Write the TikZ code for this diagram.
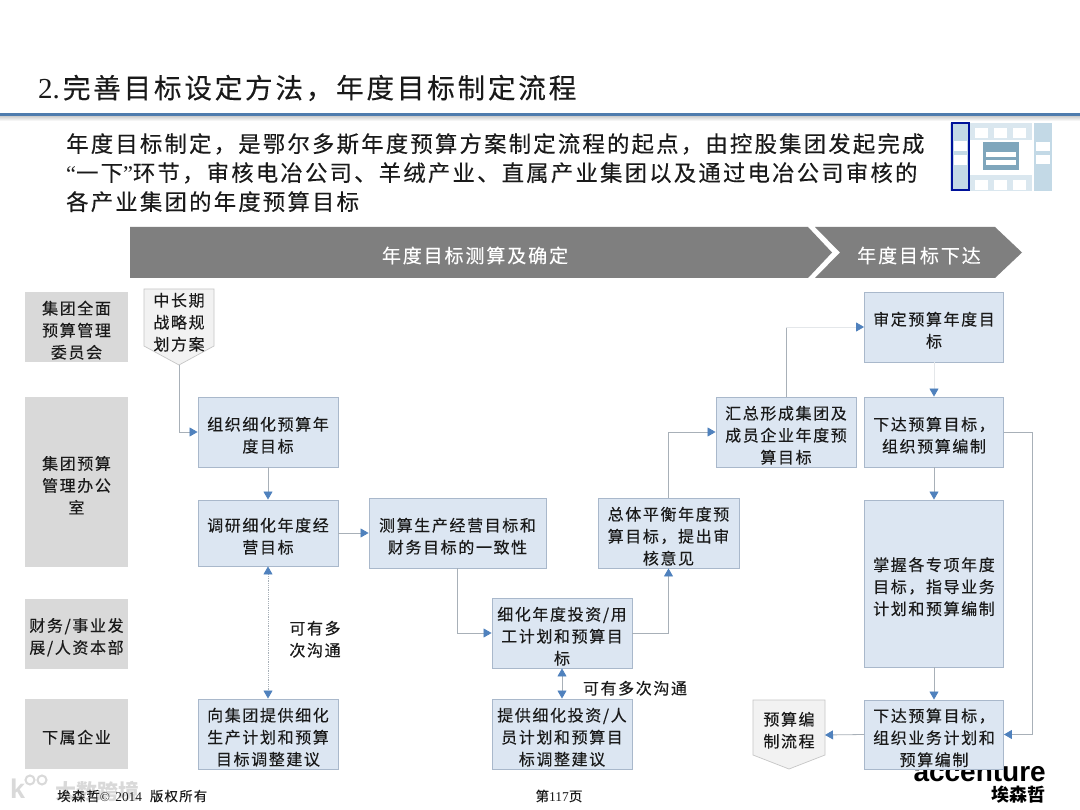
\documentclass[tikz,border=0pt]{standalone}
\usepackage{fontspec}
\usetikzlibrary{arrows.meta,calc}
\newfontfamily\cjk[LetterSpace=10,FakeBold=0.25]{Noto Sans CJK SC}
\newfontfamily\cjkplain{Noto Sans CJK SC}
\newfontfamily\latser{Liberation Serif}
\newfontfamily\latsans{Liberation Sans}
\newcommand{\fl}{\rule{0pt}{20pt}}
\definecolor{bandblue}{HTML}{4F7CAE}
\definecolor{tipblue}{HTML}{4F81BD}
\definecolor{boxfill}{HTML}{DCE6F2}
\definecolor{boxline}{HTML}{A9B8CB}
\definecolor{linegray}{HTML}{A8B0B8}
\definecolor{linefaint}{HTML}{E4E7EA}
\definecolor{rowgray}{HTML}{D9D9D9}
\definecolor{headgray}{HTML}{7F7F7F}
\definecolor{txt}{HTML}{1A1A1A}
\definecolor{thumbA}{HTML}{C3D9E6}
\definecolor{thumbB}{HTML}{DAE7EF}
\definecolor{thumbC}{HTML}{7FA6BC}
\definecolor{thumbD}{HTML}{00129A}
\tikzset{
  boxbase/.style={rectangle,inner sep=0pt,align=center,text=txt,font=\cjk\fontsize{16}{22}\selectfont},
  flowbox/.style={boxbase,fill=boxfill,draw=boxline,line width=0.9pt},
  rowbox/.style={boxbase,fill=rowgray},
  conn/.style={draw=linegray,line width=0.8pt,-{Triangle[length=8pt,width=9pt,color=tipblue]}},
  connboth/.style={draw=linegray,line width=0.8pt,{Triangle[length=8pt,width=9pt,color=tipblue]}-{Triangle[length=8pt,width=9pt,color=tipblue]}},
  pent/.style={fill=gray!10,draw=gray!45,line width=0.7pt},
  plaintext/.style={boxbase},
  headtext/.style={inner sep=0pt,text=white,font=\cjk\fontsize{19}{22}\selectfont},
  thumbcell/.style={fill=white},
}
\begin{document}
\begin{tikzpicture}[x=1pt,y=-1pt]
\useasboundingbox[fill=white] (0,0) rectangle (1080,810);

% title and rule
\node[anchor=west,inner sep=0pt,text=txt] (title) at (38,88)
  {{\latser\fontsize{29}{30}\selectfont 2.}\hspace{3pt}{\cjk\fontsize{27.6}{30}\selectfont 完善目标设定方法，年度目标制定流程}};
\fill[bandblue] (0,113) rectangle (1080,116.5);
\shade[top color=gray!35,bottom color=white] (0,116.5) rectangle (1080,121);

% intro
\node[anchor=north west,inner sep=0pt,align=left,text=txt,font=\cjk\fontsize{22.35}{29}\selectfont] (intro) at (66,133)
  {年度目标制定，是鄂尔多斯年度预算方案制定流程的起点，由控股集团发起完成\\
   {\latser “}一下{\latser ”}环节，审核电冶公司、羊绒产业、直属产业集团以及通过电冶公司审核的\\
   各产业集团的年度预算目标};

% thumbnail
\fill[thumbB] (950,123) rectangle (1052,191);
\fill[white] (970,140) rectangle (1032,175);
\fill[white] (1032,123) rectangle (1034,191);
\fill[thumbC] (983,142) rectangle (1019,170);
\fill[white] (986,152) rectangle (1016,157);
\fill[white] (986,160) rectangle (1016,165);
\foreach \xa in {975,994,1013}{\fill[thumbcell] (\xa,128) rectangle ++(13,10);\fill[thumbcell] (\xa,180) rectangle ++(13,10);}
\fill[thumbA] (1034,123) rectangle (1052,191);
\fill[white] (1036,142) rectangle (1050,151);
\fill[white] (1036,155) rectangle (1050,164);
\fill[thumbA] (952,123) rectangle (969,190);
\fill[white] (954,141) rectangle (967,151);
\fill[white] (954,155) rectangle (967,165);
\draw[thumbD,line width=2.2pt] (952,123) rectangle (969,190);

% header chevrons
\fill[headgray] (130,227) -- (808,227) -- (832,252.5) -- (808,278) -- (130,278) -- cycle;
\fill[headgray] (815,227) -- (995,227) -- (1022,252.5) -- (995,278) -- (815,278) -- (840,252.5) -- cycle;
\node[headtext] (h1) at (475,255.5) {年度目标测算及确定};
\node[headtext] (h2) at (919,255.5) {年度目标下达};

% row labels
\node[rowbox,minimum width=103pt,minimum height=70pt] (r1) at (76.5,327) {\fl 集团全面\\预算管理\\委员会};
\node[rowbox,minimum width=103pt,minimum height=170pt] (r2) at (76.5,482) {\fl 集团预算\\管理办公\\室};
\node[rowbox,minimum width=103pt,minimum height=70pt] (r3) at (76.5,634) {\fl 财务/事业发\\展/人资本部};
\node[rowbox,minimum width=103pt,minimum height=70pt] (r4) at (76.5,734) {\fl 下属企业};

% accenture logo (drawn beneath the box that overlaps it)
\node[anchor=base east,inner sep=0pt,text=black,font=\latsans\bfseries\fontsize{28}{30}\selectfont] (logo) at (1046,781) {accenture};
\node[anchor=base east,inner sep=0pt,text=black,font=\cjkplain\bfseries\fontsize{18}{18}\selectfont] (logocn) at (1046,801) {埃森哲};

% pentagons
\draw[pent] (144,289) -- (214,289) -- (214,346) -- (179,365) -- (144,346) -- cycle;
\node[plaintext] (ps) at (179,319) {\fl 中长期\\战略规\\划方案};
\coordinate (pstip) at (179,365);
\draw[pent] (753,700) -- (825,700) -- (825,755) -- (789,769) -- (753,755) -- cycle;
\node[plaintext,minimum width=72pt,minimum height=55pt] (pb) at (789,727) {\fl 预算编\\制流程};
\coordinate (pbin) at (825,735);

% flow boxes
\node[flowbox,minimum width=140pt,minimum height=70pt] (zz) at (268,432) {\fl 组织细化预算年\\度目标};
\node[flowbox,minimum width=140pt,minimum height=66pt] (dy) at (268,533) {\fl 调研细化年度经\\营目标};
\node[flowbox,minimum width=140pt,minimum height=70pt] (xj) at (268,734) {\fl 向集团提供细化\\生产计划和预算\\目标调整建议};
\node[flowbox,minimum width=177pt,minimum height=70pt] (cs) at (457.5,533) {\fl 测算生产经营目标和\\财务目标的一致性};
\node[flowbox,minimum width=140pt,minimum height=70pt] (xh) at (562,633) {\fl 细化年度投资/用\\工计划和预算目\\标};
\node[flowbox,minimum width=140pt,minimum height=70pt] (tg) at (562,734) {\fl 提供细化投资/人\\员计划和预算目\\标调整建议};
\node[flowbox,minimum width=141pt,minimum height=70pt] (zt) at (668.5,533) {\fl 总体平衡年度预\\算目标，提出审\\核意见};
\node[flowbox,minimum width=140pt,minimum height=70pt] (hz) at (786,432) {\fl 汇总形成集团及\\成员企业年度预\\算目标};
\node[flowbox,minimum width=139pt,minimum height=70pt] (sd) at (934,327) {\fl 审定预算年度目\\标};
\node[flowbox,minimum width=139pt,minimum height=70pt] (xd) at (934,432) {\fl 下达预算目标，\\组织预算编制};
\node[flowbox,minimum width=139pt,minimum height=167pt] (zw) at (934,583.5) {\fl 掌握各专项年度\\目标，指导业务\\计划和预算编制};
\node[flowbox,minimum width=139pt,minimum height=69pt] (xe) at (934,734.5) {\fl 下达预算目标，\\组织业务计划和\\预算编制};

% connectors
\draw[conn] (pstip) |- (zz.west);
\draw[conn] (zz.south) -- (dy.north);
\draw[connboth,densely dotted] (dy.south) -- (xj.north);
\draw[conn] (dy.east) -- (cs.west);
\draw[conn] (cs.south) |- (xh.west);
\draw[conn] (xh.east) -| (zt.south);
\draw[connboth] (xh.south) -- (tg.north);
\draw[conn] (zt.north) |- (hz.west);
\coordinate (hzup) at (hz.north |- sd.west);
\draw[draw=linegray,line width=0.8pt] (hz.north) -- (hzup);
\draw[conn,draw=linefaint] (hzup) -- (sd.west);
\draw[conn,draw=linefaint] (sd.south) -- (xd.north);
\draw[conn] (xd.south) -- (zw.north);
\draw[conn] (zw.south) -- (xe.north);
\coordinate (elbow) at (1032,432);
\draw[conn] (xd.east) -- (elbow) |- (xe.east);
\draw[conn] (xe.west) -- (pbin);

% free labels
\node[plaintext] (l1) at (315,636) {\fl 可有多\\次沟通};
\node[plaintext] (l2) at (635,685) {\fl 可有多次沟通};

% watermark and footer
\node[anchor=west,inner sep=0pt,text=gray!30,font=\latsans\bfseries\fontsize{27}{24}\selectfont] (wm1) at (10,789) {k};
\draw[gray!30,line width=2pt] (30,780) circle (4.5pt);
\draw[gray!30,line width=2pt] (42,780) circle (4.5pt);
\node[anchor=west,inner sep=0pt,text=gray!30,font=\cjkplain\bfseries\fontsize{21}{24}\selectfont] (wm2) at (55,791) {大数跨境};
\node[anchor=west,inner sep=0pt,text=txt,font=\cjk\fontsize{13.3}{14}\selectfont] (foot) at (57,796)
  {埃森哲{\latser © \,2014}\hspace{8pt}版权所有};
\node[inner sep=0pt,text=txt,font=\cjk\fontsize{13.5}{14}\selectfont] (page) at (559,796) {第{\latser 117}页};
\end{tikzpicture}
\end{document}
